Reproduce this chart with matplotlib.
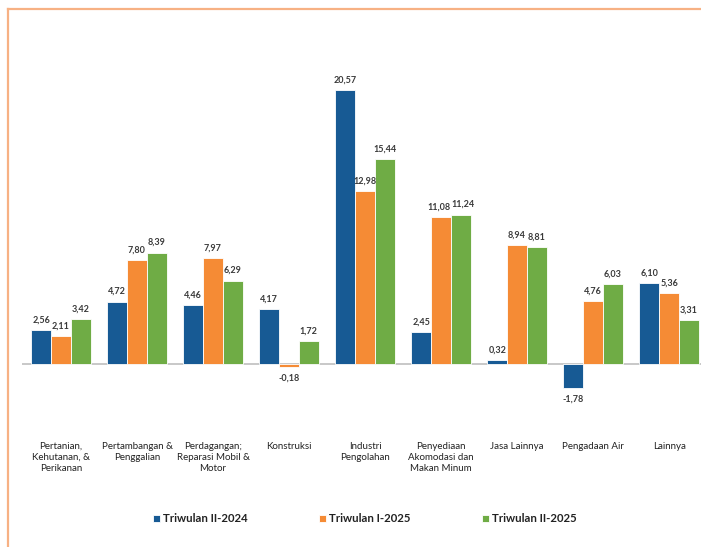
import matplotlib
matplotlib.use("Agg")
import matplotlib.pyplot as plt
from matplotlib.lines import Line2D
import numpy as np

categories = ["Pertanian,\nKehutanan, &\nPerikanan", "Pertambangan &\nPenggalian",
              "Perdagangan;\nReparasi Mobil &\nMotor", "Konstruksi", "Industri\nPengolahan",
              "Penyediaan\nAkomodasi dan\nMakan Minum", "Jasa Lainnya", "Pengadaan Air", "Lainnya"]
series_names = ["Triwulan II-2024", "Triwulan I-2025", "Triwulan II-2025"]
tw2_2024 = [2.56, 4.72, 4.46, 4.17, 20.57, 2.45, 0.32, -1.78, 6.10]
tw1_2025 = [2.11, 7.80, 7.97, -0.18, 12.98, 11.08, 8.94, 4.76, 5.36]
tw2_2025 = [3.42, 8.39, 6.29, 1.72, 15.44, 11.24, 8.81, 6.03, 3.31]
colors = ["#175A94", "#F58B35", "#6FAC45"]

plt.rcParams['font.family'] = ['Lato', 'DejaVu Sans']

W, H = 701, 547
fig = plt.figure(figsize=(W/100, H/100), dpi=100)
left, right = 22, 701
top, bottom = 40, 431
ax = fig.add_axes([left/W, 1-bottom/H, (right-left)/W, (bottom-top)/H])

all_series = [tw2_2024, tw1_2025, tw2_2025]
x = np.arange(len(categories))
bw = 0.26
for i, (vals, name, c) in enumerate(zip(all_series, series_names, colors)):
    pos = x + (i-1)*bw
    ax.bar(pos, vals, width=bw, color=c, edgecolor='white', linewidth=0.6, label=name, zorder=2)
    for k, (p, v) in enumerate(zip(pos, vals)):
        txt = f"{v:.2f}".replace('.', ',')
        dx = 0
        # nudge neighbouring labels of similar height apart
        if i == 1 and abs(all_series[2][k] - v) < 0.5 and v > 10:
            dx = -1.8
        if i == 2 and abs(all_series[1][k] - v) < 0.5 and v > 10:
            dx = 1.8
        if v >= 0:
            ax.annotate(txt, (p, v), xytext=(dx, 4), textcoords='offset points',
                        ha='center', va='bottom', fontsize=6.5, fontweight='bold', color='#3a3a3a')
        else:
            ax.annotate(txt, (p, v), xytext=(dx, -5), textcoords='offset points',
                        ha='center', va='top', fontsize=6.5, fontweight='bold', color='#3a3a3a')

ax.axhline(0, color='#BFBFBF', linewidth=1.2, zorder=1)
ax.set_xlim(-0.513, 8.42)
ax.set_ylim(-5.0, 24.35)
ax.set_yticks([])
ax.set_xticks(x)
ax.set_xticklabels(categories, fontsize=7, color='#222222', linespacing=1.25)
ax.tick_params(axis='x', length=0, pad=8)
for s in ax.spines.values():
    s.set_visible(False)
ax.patch.set_alpha(0)

leg = fig.legend(loc='center', bbox_to_anchor=(365/W, 1-519/H), ncol=3, frameon=False,
                 handlelength=0.55, handleheight=0.55, handletextpad=0.3,
                 columnspacing=6.3, prop={'weight': 'bold', 'size': 8.2})
for t in leg.get_texts():
    t.set_color('#222222')

fig.add_artist(Line2D([8/W, 1], [1-9/H, 1-9/H], color='#F7B184', linewidth=1.6, transform=fig.transFigure))
fig.add_artist(Line2D([8/W, 8/W], [1-9/H, 0], color='#F7B184', linewidth=1.6, transform=fig.transFigure))

fig.savefig("out.png", dpi=100)
